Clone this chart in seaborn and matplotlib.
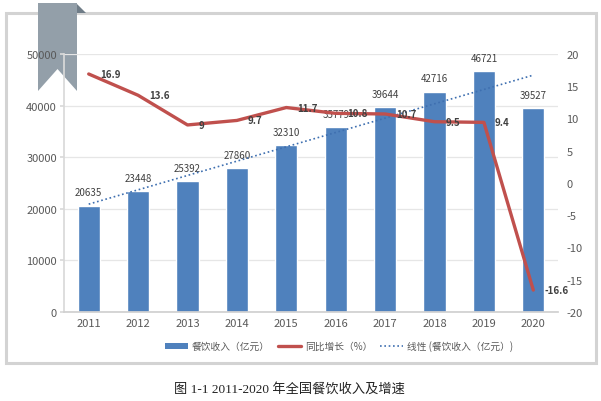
import numpy as np
import pandas as pd
import matplotlib
matplotlib.use("Agg")
import matplotlib.pyplot as plt
import seaborn as sns
from matplotlib.patches import Polygon, Rectangle
from matplotlib.lines import Line2D

years = ["2011", "2012", "2013", "2014", "2015", "2016", "2017", "2018", "2019", "2020"]
revenue = [20635, 23448, 25392, 27860, 32310, 35779, 39644, 42716, 46721, 39527]
growth = [16.9, 13.6, 9, 9.7, 11.7, 10.8, 10.7, 9.5, 9.4, -16.6]
growth_labels = ["16.9", "13.6", "9", "9.7", "11.7", "10.8", "10.7", "9.5", "9.4", "-16.6"]
left_ticks = [0, 10000, 20000, 30000, 40000, 50000]
right_ticks = [-20, -15, -10, -5, 0, 5, 10, 15, 20]
legend_names = ["餐饮收入（亿元）", "同比增长（%）", "线性 (餐饮收入（亿元）)"]
caption = "图 1-1 2011-2020 年全国餐饮收入及增速"

sns.set_theme(style="white")
plt.rcParams['font.family'] = ['Noto Sans CJK SC', 'DejaVu Sans']

BLUE = "#4F81BD"
RED = "#C0504D"
TREND = "#3E6FB0"
GRAY_TXT = "#595959"
GRID = "#E6E6E6"

W, H = 601, 402
fig = plt.figure(figsize=(W / 100, H / 100), dpi=100)

# outer frame
fig.patches.append(Rectangle((6 / W, 1 - 364 / H), 590 / W, 350 / H, transform=fig.transFigure,
                             fill=False, edgecolor="#D3D3D3", linewidth=2.2, zorder=-2))
# bookmark ribbon (behind the axes texts)
rib = [(38, 4), (77, 4), (77, 92), (57.5, 70), (38, 92)]
fig.patches.append(Polygon([(x / W, 1 - y / H) for x, y in rib], closed=True, transform=fig.transFigure,
                           facecolor="#939FA9", edgecolor="none", zorder=-1))
fold = [(77, 5), (86, 14), (77, 14)]
fig.patches.append(Polygon([(x / W, 1 - y / H) for x, y in fold], closed=True, transform=fig.transFigure,
                           facecolor="#6F7C87", edgecolor="none", zorder=-1))

ax = fig.add_axes([64 / W, 1 - 313 / H, (558 - 64) / W, (313 - 55) / H])
ax.set_facecolor("none")
df = pd.DataFrame({"year": years, "revenue": revenue, "growth": growth})
sns.barplot(data=df, x="year", y="revenue", color=BLUE, saturation=1, width=0.45, ax=ax, zorder=2)
ax.set_ylim(0, 50000)
ax.set_xlim(-0.5, len(years) - 0.5)
ax.set_yticks(left_ticks)
ax.set_yticklabels([str(t) for t in left_ticks])
ax.set_xlabel("")
ax.set_ylabel("")
ax.yaxis.grid(True, color=GRID, linewidth=0.9, zorder=0)
ax.set_axisbelow(True)
for s in ["top", "right"]:
    ax.spines[s].set_visible(False)
ax.spines["left"].set_color("#D9D9D9")
ax.spines["bottom"].set_color("#D0D0D0")
ax.tick_params(axis="y", colors=GRAY_TXT, labelsize=8, length=3, color="#D9D9D9", pad=2)
ax.tick_params(axis="x", colors=GRAY_TXT, labelsize=8, length=0, pad=4)

pos = np.arange(len(years))
for p, v in zip(pos, revenue):
    ax.annotate(str(v), (p, v), xytext=(0, 6), textcoords="offset points", ha="center", va="bottom",
                fontsize=7, color="#404040")

# linear trend of revenue
coef = np.polyfit(pos, revenue, 1)
trend = np.polyval(coef, pos)
ax.plot(pos, trend, linestyle=(0, (1, 1.6)), color=TREND, linewidth=1.2, zorder=3)

ax2 = ax.twinx()
ax2.set_facecolor("none")
ax2.plot(pos, growth, color=RED, linewidth=2.4, zorder=4, solid_capstyle="round")
ax2.set_ylim(-20, 20)
ax2.set_yticks(right_ticks)
ax2.set_yticklabels([str(t) for t in right_ticks])
for s in ["top", "left", "bottom", "right"]:
    ax2.spines[s].set_visible(False)
ax2.tick_params(axis="y", colors=GRAY_TXT, labelsize=8, length=0, pad=6)
ax2.grid(False)
for p, g, lab in zip(pos, growth, growth_labels):
    ax2.annotate(lab, (p, g), xytext=(8, 0), textcoords="offset points", ha="left", va="center",
                 fontsize=7, fontweight="bold", color="#404040", zorder=6)

handles = [Rectangle((0, 0), 1, 1, facecolor=BLUE, edgecolor="none"),
           Line2D([], [], color=RED, linewidth=2.4),
           Line2D([], [], color=TREND, linestyle=(0, (1, 1.6)), linewidth=1.2)]
leg = fig.legend(handles, legend_names, loc="center", bbox_to_anchor=(339 / W, 1 - 347 / H), ncol=3,
                 frameon=False, fontsize=7, handlelength=2.4, handleheight=0.5, columnspacing=0.8,
                 handletextpad=0.4)
for t in leg.get_texts():
    t.set_color(GRAY_TXT)

fig.text(289 / W, 1 - 389 / H, caption, ha="center", va="center", fontsize=9.5, color="#222222",
         family=["Liberation Serif", "Noto Sans CJK SC"])

fig.savefig("out.png", dpi=100)
